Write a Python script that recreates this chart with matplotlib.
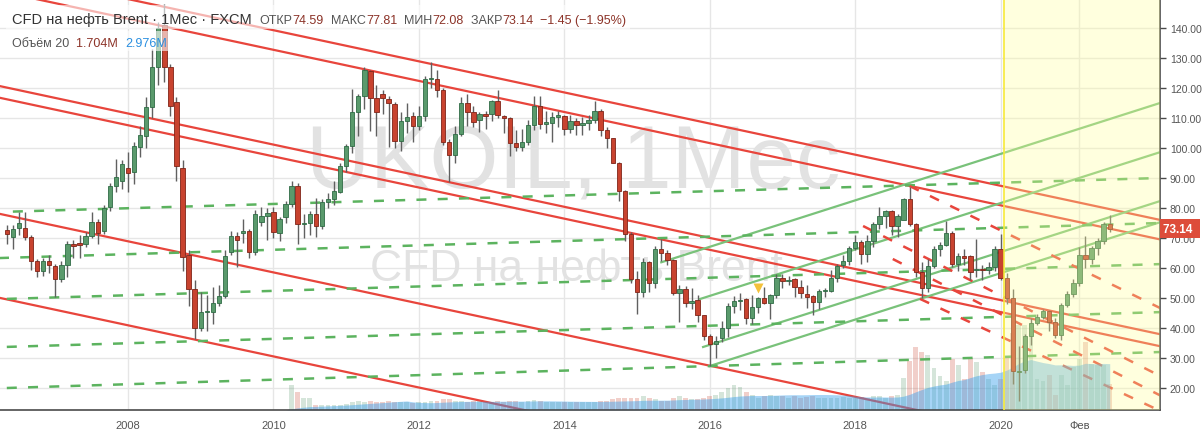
import matplotlib
matplotlib.use("Agg")
import matplotlib.pyplot as plt
import matplotlib.transforms as mtrans
from matplotlib.patches import Rectangle
import numpy as np
import pandas as pd

plt.rcParams['font.family'] = ['Liberation Sans', 'DejaVu Sans']

# ---------------- data (monthly candles, May 2006 .. Jul 2021) ----------------
first_month_index = -20          # months relative to Jan 2008 (May 2006)

opens = [
    72.7, 70.5, 73.3, 73.3, 70.5, 62.5, 59.0, 62.5,                                    # 2006
    60.7, 56.5, 61.0, 68.0, 68.3, 68.0, 70.8, 75.3, 72.3, 80.5, 87.3, 89.0,            # 2007
    93.5, 92.0, 100.5, 104.0, 113.6, 127.0, 141.0, 127.0, 115.5, 93.3, 64.3, 53.0,     # 2008
    40.0, 45.3, 45.5, 48.5, 50.7, 65.3, 70.7, 71.8, 72.3, 65.5, 75.5, 77.5,            # 2009
    78.7, 71.8, 77.0, 81.3, 87.3, 74.8, 75.0, 78.0, 74.0, 82.0, 83.0, 85.5,            # 2010
    94.0, 100.7, 112.0, 117.3, 125.7, 116.7, 118.0, 116.5, 114.7, 102.3, 109.0, 110.7, # 2011
    107.3, 110.7, 123.0, 123.0, 119.3, 102.0, 97.7, 104.7, 115.0, 112.0, 109.3, 111.5, # 2012
    111.2, 115.6, 110.8, 110.0, 101.7, 100.4, 102.0, 107.7, 114.0, 108.0, 108.5, 110.5,# 2013
    110.8, 106.4, 109.0, 107.7, 108.3, 109.5, 112.3, 106.0, 103.2, 95.0, 85.8, 71.3,   # 2014
    56.3, 52.0, 62.0, 55.0, 66.3, 65.0, 62.7, 51.8, 53.0, 48.3, 49.3, 44.4,            # 2015
    37.3, 34.8, 36.7, 40.0, 47.3, 49.0, 49.7, 43.3, 47.0, 50.0, 48.3, 51.0,            # 2016
    56.7, 55.6, 56.3, 53.7, 51.5, 50.7, 48.7, 52.3, 52.5, 56.7, 61.0, 62.3,            # 2017
    66.7, 68.7, 64.7, 69.0, 74.7, 77.3, 79.0, 74.0, 76.0, 83.0, 74.7, 58.7,            # 2018
    53.3, 60.7, 66.3, 67.7, 71.7, 61.3, 64.0, 64.0, 59.3, 59.7, 59.3, 60.3,            # 2019
    66.3, 56.7, 50.0, 25.2, 26.0, 37.3, 41.7, 43.7, 45.7, 42.0, 37.7, 47.7,            # 2020
    51.3, 55.0, 64.3, 63.0, 66.7, 69.0, 74.59,                                         # 2021
]
highs = [
    74.5, 74.5, 78.7, 78.7, 71.0, 63.0, 63.5, 64.5,
    61.5, 62.5, 69.0, 69.5, 71.0, 72.0, 78.7, 76.5, 81.0, 88.5, 96.3, 96.0,
    98.6, 102.0, 107.3, 117.0, 133.0, 142.0, 148.0, 128.0, 117.0, 96.0, 66.0, 56.0,
    52.0, 51.0, 53.7, 54.5, 66.0, 72.5, 72.0, 76.5, 73.0, 79.5, 80.5, 80.0,
    80.5, 77.0, 82.5, 89.0, 88.5, 78.0, 79.0, 83.5, 83.0, 85.0, 89.0, 95.0,
    101.5, 119.7, 118.0, 127.0, 126.0, 121.0, 119.5, 117.5, 115.5, 112.0, 115.0, 112.0,
    114.0, 124.0, 128.7, 126.0, 120.0, 103.0, 107.5, 117.0, 118.0, 114.0, 112.0, 112.5,
    116.0, 119.3, 111.0, 110.5, 106.0, 106.5, 109.5, 117.3, 117.3, 112.3, 112.0, 112.5,
    111.0, 111.0, 110.0, 110.5, 111.0, 115.7, 113.0, 107.0, 103.5, 95.5, 86.0, 72.0,
    59.0, 63.5, 62.5, 67.5, 69.7, 66.0, 63.0, 54.5, 54.0, 53.5, 51.0, 44.5,
    38.0, 37.5, 42.5, 48.5, 50.7, 51.8, 50.0, 51.0, 50.5, 53.8, 51.5, 58.0,
    58.0, 57.5, 56.8, 56.0, 54.5, 51.0, 53.0, 53.5, 59.5, 61.5, 64.5, 67.5,
    71.0, 69.5, 71.0, 75.5, 80.5, 79.5, 79.5, 78.0, 83.5, 87.0, 75.0, 62.0,
    63.0, 67.5, 68.7, 75.8, 72.5, 65.0, 66.5, 64.5, 69.7, 61.0, 62.0, 67.5,
    71.3, 58.5, 53.0, 34.0, 38.0, 43.5, 44.8, 46.5, 46.0, 43.5, 48.5, 52.5,
    56.5, 67.0, 70.8, 67.5, 70.0, 75.5, 77.81,
]
lows = [
    68.0, 66.5, 71.0, 69.5, 59.5, 57.0, 57.5, 58.5,
    50.3, 55.5, 57.0, 63.5, 63.5, 67.0, 70.0, 68.0, 71.5, 79.0, 85.5, 86.5,
    85.3, 88.0, 97.0, 100.0, 110.0, 121.0, 122.0, 110.7, 89.0, 59.0, 47.5, 36.3,
    39.0, 39.0, 41.3, 47.5, 50.0, 64.5, 60.5, 68.5, 63.5, 64.5, 74.0, 69.5,
    70.0, 69.0, 75.0, 80.5, 68.0, 70.0, 71.0, 70.5, 73.0, 80.0, 81.0, 85.0,
    92.0, 98.5, 104.0, 113.0, 105.7, 104.0, 111.5, 100.3, 100.0, 99.0, 105.0, 102.0,
    106.0, 109.0, 120.0, 117.0, 101.0, 88.7, 95.0, 104.0, 107.5, 107.0, 105.5, 106.5,
    109.0, 110.0, 105.0, 97.5, 99.0, 99.0, 101.0, 106.0, 106.5, 105.0, 102.0, 107.0,
    104.5, 105.0, 104.5, 104.5, 106.0, 108.5, 104.0, 100.0, 95.0, 82.5, 69.0, 55.0,
    44.7, 50.5, 52.0, 53.5, 62.5, 61.0, 51.0, 42.0, 47.0, 46.5, 42.0, 36.0,
    27.3, 30.0, 35.5, 37.0, 45.0, 46.0, 41.5, 41.5, 45.0, 48.0, 43.0, 50.0,
    53.5, 54.5, 50.5, 50.0, 46.7, 44.3, 46.5, 50.5, 52.0, 55.5, 60.0, 61.0,
    66.0, 61.5, 62.0, 67.0, 73.0, 73.5, 71.0, 70.5, 76.5, 74.0, 57.0, 50.0,
    52.0, 60.0, 64.0, 67.3, 60.5, 59.0, 61.0, 56.0, 57.0, 56.0, 58.0, 59.0,
    56.0, 48.0, 21.3, 15.8, 25.0, 34.5, 41.0, 43.0, 39.0, 36.7, 36.0, 47.0,
    50.5, 54.0, 60.0, 61.5, 64.5, 68.0, 72.08,
]
closes = [
    71.3, 73.0, 75.0, 70.3, 62.5, 59.0, 62.5, 61.0,
    56.5, 61.0, 68.0, 67.5, 67.8, 70.7, 75.3, 71.7, 80.0, 87.3, 90.3, 94.7,
    91.8, 100.7, 104.5, 113.6, 127.0, 140.0, 127.0, 114.0, 94.0, 63.7, 53.0, 40.0,
    45.3, 45.6, 48.5, 50.7, 64.0, 70.7, 69.3, 72.3, 65.3, 78.0, 77.5, 78.5,
    72.0, 76.3, 81.3, 87.3, 74.7, 75.0, 78.0, 74.0, 82.0, 83.0, 85.7, 94.0,
    100.7, 112.0, 117.3, 126.0, 116.7, 112.0, 116.7, 115.0, 102.3, 109.0, 110.5, 107.3,
    110.7, 123.0, 123.3, 119.3, 102.0, 97.7, 104.7, 115.0, 112.0, 108.7, 111.2, 110.8,
    115.6, 111.0, 110.0, 101.7, 100.4, 102.0, 107.7, 114.0, 108.0, 108.8, 110.3, 110.8,
    106.4, 109.0, 107.7, 108.3, 109.5, 112.3, 106.0, 103.2, 95.0, 85.8, 71.3, 56.3,
    52.0, 62.0, 55.0, 66.3, 65.0, 62.7, 51.8, 53.0, 48.3, 49.0, 44.4, 37.3,
    34.8, 35.8, 40.0, 47.3, 49.0, 49.5, 43.3, 47.0, 50.0, 48.3, 51.0, 56.7,
    55.6, 56.0, 53.7, 51.7, 50.5, 48.7, 52.3, 52.7, 56.7, 60.7, 62.3, 66.7,
    68.7, 64.7, 69.0, 74.7, 77.3, 79.0, 74.0, 77.3, 83.0, 74.7, 58.7, 53.3,
    60.7, 66.3, 67.7, 71.7, 61.3, 64.0, 63.3, 58.7, 59.7, 59.3, 60.3, 66.3,
    56.7, 50.0, 25.7, 25.8, 37.3, 41.7, 43.7, 45.7, 42.0, 37.7, 47.7, 51.3,
    55.0, 64.3, 63.0, 66.7, 69.0, 74.6, 73.14,
]
# volume, millions (no data before Apr 2010)
volumes = (
    [0.0] * 8 + [0.0] * 12 + [0.0] * 12 + [0.0] * 12 +
    [0.0, 0.0, 0.0, 1.6, 1.2, 0.8, 0.8, 0.3, 0.3, 0.35, 0.35, 0.3] +           # 2010
    [0.4, 0.5, 0.6, 0.5, 0.6, 0.5, 0.5, 0.6, 0.55, 0.5, 0.5, 0.45] +           # 2011
    [0.5, 0.55, 0.6, 0.6, 0.7, 0.7, 0.6, 0.6, 0.55, 0.6, 0.6, 0.5] +           # 2012
    [0.55, 0.6, 0.55, 0.6, 0.6, 0.55, 0.6, 0.65, 0.6, 0.55, 0.55, 0.5] +       # 2013
    [0.55, 0.5, 0.55, 0.5, 0.5, 0.55, 0.6, 0.6, 0.7, 0.8, 0.75, 0.8] +         # 2014
    [0.8, 0.9, 0.75, 0.7, 0.6, 0.6, 0.8, 0.9, 0.75, 0.7, 0.7, 0.8] +           # 2015
    [0.9, 1.0, 1.2, 1.4, 1.6, 1.5, 1.2, 1.0, 0.8, 0.9, 1.0, 0.9] +             # 2016
    [0.9, 0.8, 0.9, 0.8, 0.85, 0.9, 0.8, 0.8, 0.75, 0.8, 0.85, 0.75] +         # 2017
    [0.8, 0.85, 0.8, 0.9, 0.9, 0.8, 0.9, 1.0, 2.1, 3.2, 4.1, 3.8] +            # 2018
    [3.6, 2.7, 2.2, 1.9, 3.3, 2.9, 2.0, 3.4, 3.1, 2.5, 2.0, 1.6] +             # 2019
    [2.0, 3.5, 5.0, 5.5, 5.5, 5.0, 2.0, 1.9, 2.3, 1.0, 2.3, 1.6] +             # 2020
    [2.8, 3.3, 4.4, 3.0, 2.9, 2.9, 1.704]                                       # 2021
)
volume_ma_length = 20

price_ticks = [20, 30, 40, 50, 60, 70, 80, 90, 100, 110, 120, 130, 140]
time_tick_months = [0, 24, 48, 72, 96, 120, 144, 157]
time_tick_labels = ["2008", "2010", "2012", "2014", "2016", "2018", "2020", "Фев"]

# drawings: (start month, start price, end month, end price)
red_channel = [
    (-5, 151.8, 172, 75.3),
    (-25, 153.9, 172, 68.8),
    (-25, 122.3, 172, 37.2),
    (-25, 118.4, 172, 33.2),
    (-25, 79.7, 172, -5.4),
    (-25, 51.7, 100, -2.3),
]
green_channel = [
    (88.0, 61.9, 172, 116.1),
    (94.4, 49.67, 172, 99.7),
    (94.9, 33.67, 172, 83.4),
    (96.0, 27.33, 172, 76.35),
]
green_dashed = [
    (-19.0, 78.8, 172, 90.1),
    (-21.5, 63.3, 172, 75.1),
    (-20.0, 49.7, 172, 61.4),
    (-20.0, 33.7, 172, 45.4),
    (-20.0, 20.0, 172, 32.1),
]
red_dashed = [
    (129.0, 87.3, 172, 45.0),
    (121.3, 74.0, 172, 22.3),
    (126.2, 63.0, 172, 15.8),
    (130.7, 49.7, 172, 10.8),
]
highlight_start = 144.55
signal_month, signal_price = 104, 53.4

last_price = closes[-1]
legend_open, legend_high, legend_low, legend_close = opens[-1], highs[-1], lows[-1], closes[-1]
legend_change, legend_change_pct = -1.45, -1.95
legend_vol, legend_vol_ma = 1.704, 2.976

# ---------------- figure ----------------
W, H = 1203, 435
fig = plt.figure(figsize=(W / 100, H / 100), dpi=100)
fig.patch.set_facecolor("white")
ax_left, ax_right, ax_bottom, ax_top = 0, 1160, 411, 0
ax = fig.add_axes([ax_left / W, (H - ax_bottom) / H, (ax_right - ax_left) / W, (ax_bottom - ax_top) / H])
ax.set_facecolor("white")

m = np.arange(len(closes)) + first_month_index
o = np.array(opens); h = np.array(highs); l = np.array(lows); c = np.array(closes)
up = c >= o

green_body, green_edge = "#5a9a6c", "#2f6b45"
red_body, red_edge = "#c8432f", "#7f2418"

# grid
for p in price_ticks:
    ax.axhline(p, color="#e6e6e6", lw=1, zorder=0)
for t in time_tick_months:
    ax.axvline(t, color="#e6e6e6", lw=1, zorder=0)

# watermark
ax.text(73.5, 87.3, "UKOIL, 1Мес", fontsize=64, color="#e2e2e2", ha="center", va="baseline", zorder=0.5)
ax.text(74.0, 56.0, "CFD на нефть Brent", fontsize=32, color="#e2e2e2", ha="center", va="baseline", zorder=0.5)

# volume overlay (x in months, y in axes fraction)
vtrans = mtrans.blended_transform_factory(ax.transData, ax.transAxes)
vol = np.array(volumes)
vol_ma = pd.Series(vol).rolling(volume_ma_length, min_periods=1).mean().values
vol_top = 26.7
ax.bar(m, vol / vol_top, width=0.8, bottom=0, transform=vtrans,
       color=np.where(up, "#5a9a6c", "#c8432f"), alpha=0.25, lw=0, zorder=1)

# drawings
for (m0, p0, m1, p1) in red_channel:
    ax.plot([m0, m1], [p0, p1], color="#e8453c", lw=1.6, zorder=2, solid_capstyle="butt")
for (m0, p0, m1, p1) in green_channel:
    ax.plot([m0, m1], [p0, p1], color="#79c27a", lw=1.6, zorder=2)
for (m0, p0, m1, p1) in green_dashed:
    ax.plot([m0, m1], [p0, p1], color="#5cb35f", lw=1.8, ls=(0, (4, 4.5)), zorder=2)
for (m0, p0, m1, p1) in red_dashed:
    ax.plot([m0, m1], [p0, p1], color="#e8453c", lw=1.8, ls=(0, (4, 5)), zorder=2)

ax.fill_between(m, 0, vol_ma / vol_top, transform=vtrans, color="#3aa0ec", alpha=0.45, lw=0, zorder=2.2)

# candles
ax.vlines(m, l, h, color="#606060", lw=1, zorder=3)
body_lo = np.minimum(o, c); body_h = np.maximum(np.abs(c - o), 0.35)
ax.bar(m, body_h, width=0.72, bottom=body_lo, color=np.where(up, green_body, red_body),
       edgecolor=np.where(up, green_edge, red_edge), lw=0.6, zorder=3.2)

ax.plot(signal_month, signal_price, marker="v", color="#f3c13a", ms=7, mec="none", zorder=4.5)

# highlighted range
ax.add_patch(Rectangle((highlight_start, 0), 200, 1, transform=vtrans, facecolor="#ffff99",
                       alpha=0.32, lw=0, zorder=5))
ax.axvline(highlight_start, color="#f7ea3a", lw=1.2, zorder=5.1)

# axes
x0 = (0 - 128) / 6.06
x1 = (1160 - 128) / 6.06
ax.set_xlim(x0, x1)
ax.set_ylim(140 - (411 - 29) / 3, 140 + 29 / 3)
for s in ["left", "top"]:
    ax.spines[s].set_visible(False)
ax.spines["bottom"].set_color("#4a4a4a"); ax.spines["bottom"].set_linewidth(1.2)
ax.spines["right"].set_color("#4a4a4a"); ax.spines["right"].set_linewidth(1.2)
ax.yaxis.tick_right()
ax.set_yticks(price_ticks)
ax.set_yticklabels([f"{p:.2f}" for p in price_ticks])
ax.tick_params(axis="y", length=4, width=1, color="#4a4a4a", pad=3, labelsize=7.5, labelcolor="#555555")
ax.set_xticks(time_tick_months)
ax.set_xticklabels(time_tick_labels)
ax.tick_params(axis="x", length=0, pad=7, labelsize=8, labelcolor="#555555")

# last price label
ytrans = mtrans.blended_transform_factory(ax.transAxes, ax.transData)
ax.text(1.003, last_price, f"{last_price:.2f} ", transform=ytrans, ha="left", va="center",
        fontsize=8.5, fontweight="bold", color="white", clip_on=False, zorder=10,
        bbox=dict(boxstyle="square,pad=0.3", fc="#dd4c3a", ec="none"))

# legend (header)
fig.canvas.draw()
renderer = fig.canvas.get_renderer()

def put_row(x_px, y_px, parts):
    x = x_px
    for txt, col, fs in parts:
        t = fig.text(x / W, 1 - y_px / H, txt, color=col, fontsize=fs, ha="left", va="baseline", zorder=8)
        bb = t.get_window_extent(renderer)
        x += bb.width
    return x

fig.add_artist(Rectangle((6 / W, 1 - 30 / H), 624 / W, 24 / H, transform=fig.transFigure,
                         facecolor="white", alpha=0.6, lw=0, zorder=7))
fig.add_artist(Rectangle((6 / W, 1 - 52 / H), 162 / W, 20 / H, transform=fig.transFigure,
                         facecolor="white", alpha=0.6, lw=0, zorder=7))
lab = "#555555"; val = "#8c3328"
xe = put_row(12, 24, [("CFD на нефть Brent · 1Мес · FXCM", "#333333", 10.5)])
put_row(xe + 8, 24, [
    ("ОТКР", lab, 9), (f"{legend_open:.2f}", val, 9), ("  МАКС", lab, 9), (f"{legend_high:.2f}", val, 9),
    ("  МИН", lab, 9), (f"{legend_low:.2f}", val, 9), ("  ЗАКР", lab, 9), (f"{legend_close:.2f}", val, 9),
    (f"  −{abs(legend_change):.2f} (−{abs(legend_change_pct):.2f}%)", val, 9)])
put_row(12, 47, [("Объём 20  ", lab, 9), (f"{legend_vol:.3f}M  ", val, 9), (f"{legend_vol_ma:.3f}M", "#2a8fe0", 9)])

fig.savefig("out.png", dpi=100, facecolor="white")
